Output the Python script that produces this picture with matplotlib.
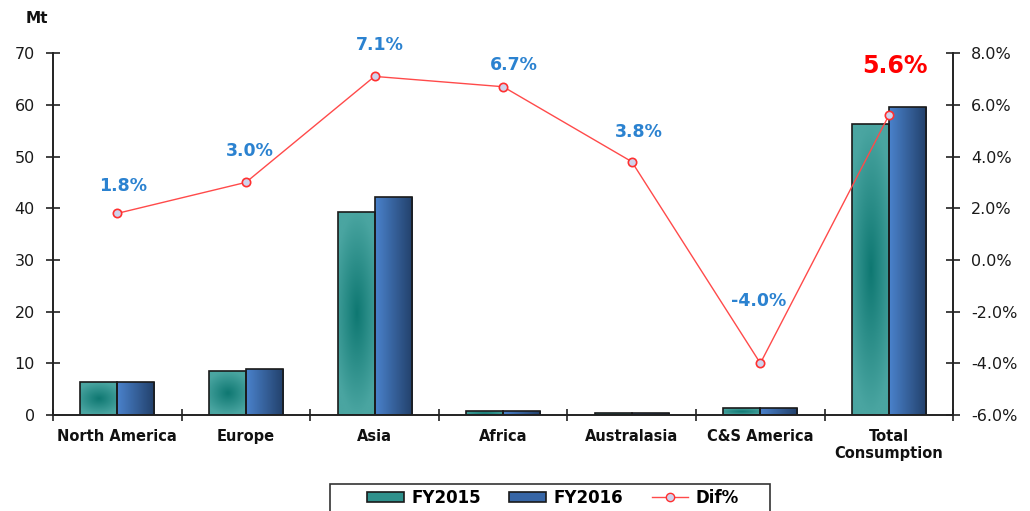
import numpy as np
import matplotlib.pyplot as plt
from matplotlib.patches import Patch, Rectangle
from matplotlib.lines import Line2D
from matplotlib.colors import LinearSegmentedColormap

regions = ['North America', 'Europe', 'Asia', 'Africa', 'Australasia', 'C&S America', 'Total\nConsumption']
fy2015 = [6.3, 8.5, 39.3, 0.7, 0.3, 1.3, 56.3]
fy2016 = [6.3, 8.9, 42.2, 0.7, 0.3, 1.3, 59.6]
dif = [1.8, 3.0, 7.1, 6.7, 3.8, -4.0, 5.6]
dif_labels = ['1.8%', '3.0%', '7.1%', '6.7%', '3.8%', '-4.0%', '5.6%']

# label offsets in points (dx, dy) above each marker
lab_off = [(4, 13), (3, 16), (4, 16), (8, 9), (5, 15), (-1, 38), (4, 27)]

teal = LinearSegmentedColormap.from_list('teal', ['#0f7872', '#4aa5a1'])
blue = LinearSegmentedColormap.from_list('blue', ['#4a82cc', '#22406a'])

fig = plt.figure(figsize=(10.3, 5.11), dpi=100)
ax = fig.add_axes([0.0515, 0.188, 0.874, 0.708])
ax2 = ax.twinx()

x = np.arange(len(regions))
w = 0.288

def grad_bar(ax, x0, h, cmap, kind):
    bar = ax.bar(x0, h, w, align='edge', facecolor='none', edgecolor='#1a1a1a', linewidth=1.2, zorder=3)[0]
    n = 100
    u, v = np.meshgrid(np.linspace(0, 1, n), np.linspace(0, 1, n))
    if kind == 'radial':
        d = np.sqrt(((u - 0.5) * 2) ** 2 * 0.6 + ((v - 0.5) * 2) ** 2)
        img = np.clip(d, 0, 1)
    else:
        img = u
    im = ax.imshow(img, cmap=cmap, extent=[x0, x0 + w, 0, h], aspect='auto',
                   origin='lower', zorder=2, interpolation='bilinear')
    im.set_clip_path(bar)

for i in x:
    grad_bar(ax, i - w, fy2015[i], teal, 'radial')
    grad_bar(ax, i, fy2016[i], blue, 'linear')

ax.set_xlim(-0.5, len(regions) - 0.5)
ax.set_ylim(0, 70)
ax.set_yticks(range(0, 71, 10))
ax.set_xticks(np.arange(-0.5, len(regions), 1.0))
ax.set_xticklabels([])
ax.set_xticks(x, minor=True)
ax.set_xticklabels(regions, minor=True, fontsize=10.5, fontweight='bold', color='#111111', linespacing=1.2)
ax.tick_params(axis='x', which='minor', length=0, pad=10)
ax.tick_params(axis='x', which='major', direction='inout', length=9, width=1.2, color='#222222')
ax.tick_params(axis='y', direction='inout', length=10, width=1.2, color='#222222',
               labelsize=11.5, labelcolor='#1a1a1a', pad=8)

ax2.plot(x, dif, color='#ff4a4a', linewidth=1, marker='o', markersize=6,
         markerfacecolor='#cfd3ec', markeredgecolor='#ff3030', markeredgewidth=1.2, zorder=5)
ax2.set_ylim(-6, 8)
ax2.set_yticks(range(-6, 9, 2))
ax2.set_yticklabels(['%.1f%%' % t for t in range(-6, 9, 2)])
ax2.tick_params(axis='y', direction='inout', length=10, width=1.2, color='#222222',
                labelsize=11.5, labelcolor='#1a1a1a', pad=8)

for i, (val, lab) in enumerate(zip(dif, dif_labels)):
    last = i == len(dif) - 1
    ax2.annotate(lab, (x[i], val), xytext=lab_off[i], textcoords='offset points',
                 ha='center', va='bottom', fontweight='bold',
                 fontsize=17 if last else 12.5,
                 color='#ff0000' if last else '#2b82d0')

for a in (ax, ax2):
    a.spines['top'].set_visible(False)
    for s in ('left', 'right', 'bottom'):
        a.spines[s].set_linewidth(1.2)
        a.spines[s].set_color('#222222')

fig.text(0.025, 0.955, 'Mt', fontsize=11, fontweight='bold', color='#111111')

# legend, with its frame drawn separately (runs off the bottom edge)
fig.patches.append(Rectangle((330 / 1030, -0.05), 440 / 1030, 27 / 511 + 0.05,
                             transform=fig.transFigure, facecolor='white',
                             edgecolor='#333333', linewidth=1.2, zorder=0))
handles = [Patch(facecolor='#2f918c', edgecolor='#1a1a1a', linewidth=1.2),
           Patch(facecolor='#3766a6', edgecolor='#1a1a1a', linewidth=1.2),
           Line2D([0], [0], color='#ff4a4a', linewidth=1, marker='o', markersize=6,
                  markerfacecolor='#cfd3ec', markeredgecolor='#ff3030')]
leg = fig.legend(handles, ['FY2015', 'FY2016', 'Dif%'], loc='center',
                 bbox_to_anchor=(0.537, 0.026), ncol=3, frameon=False,
                 prop={'weight': 'bold', 'size': 12}, handlelength=2.2, handleheight=0.55,
                 columnspacing=1.7, handletextpad=0.45, borderpad=0.2)

fig.savefig('out.png', dpi=100)
